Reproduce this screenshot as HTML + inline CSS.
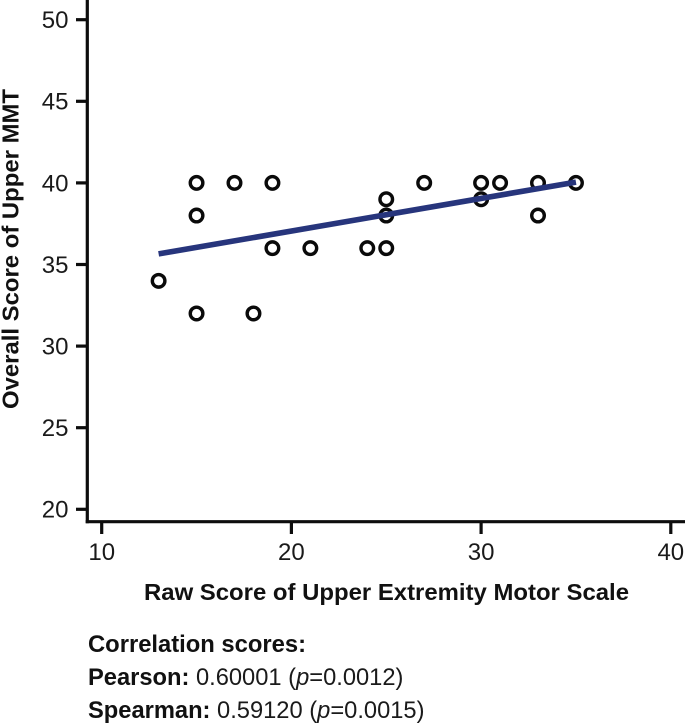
<!DOCTYPE html>
<html lang="en">
<head>
<meta charset="utf-8">
<title>Upper MMT vs Upper Extremity Motor Scale</title>
<style>
html,body{margin:0;padding:0;background:#fff;width:685px;height:724px;overflow:hidden}
svg{display:block}
text{font-family:"Liberation Sans",Arial,sans-serif;fill:#1a1a1a}
.b{font-weight:bold;fill:#111}
.n{font-size:23.7px}
</style>
</head>
<body>
<svg id="chart" width="685" height="724" viewBox="0 0 685 724" xmlns="http://www.w3.org/2000/svg">
  <text class="b" font-size="23" transform="translate(18.5,249) rotate(-90)" text-anchor="middle" textLength="320" lengthAdjust="spacingAndGlyphs" x="0" y="0">Overall Score of Upper MMT</text>
  <text class="b" font-size="23" x="144" y="600" textLength="485" lengthAdjust="spacingAndGlyphs">Raw Score of Upper Extremity Motor Scale</text>
  <text class="b n" x="88" y="652" textLength="218" lengthAdjust="spacingAndGlyphs">Correlation scores:</text>
  <text class="n" x="88" y="685"><tspan class="b">Pearson:</tspan> 0.60001 (<tspan font-style="italic">p</tspan>=0.0012)</text>
  <text class="n" x="88" y="718"><tspan class="b">Spearman:</tspan> 0.59120 (<tspan font-style="italic">p</tspan>=0.0015)</text>
</svg>
<script>
const xTicks = [10, 20, 30, 40];
const yTicks = [20, 25, 30, 35, 40, 45, 50];
const rawScores = [13, 15, 15, 15, 17, 18, 19, 19, 21, 24, 25, 25, 25, 27, 30, 30, 31, 33, 33, 35];
const mmtScores = [34, 32, 38, 40, 40, 32, 36, 40, 36, 36, 36, 38, 39, 40, 39, 40, 40, 38, 40, 40];
const fitX = [13, 35];
const fitY = [35.65, 40.05];

const svg = document.getElementById('chart');
const NS = 'http://www.w3.org/2000/svg';
const xScale = v => 101.7 + (v - 10) * 18.97;
const yScale = v => 509.3 - (v - 20) * 16.32;

function add(tag, attrs, parent) {
  const el = document.createElementNS(NS, tag);
  for (const k in attrs) el.setAttribute(k, attrs[k]);
  (parent || svg).appendChild(el);
  return el;
}

const axisStyle = {stroke: '#0d0d0d', 'stroke-width': 3.2, fill: 'none'};

const yAxis = add('line', Object.assign({x1: 87.3, x2: 87.3, y1: 0, y2: 523.3}, axisStyle));



const xAxis = add('line', Object.assign({x1: 85.7, x2: 685, y1: 521.7, y2: 521.7}, axisStyle));



yTicks.forEach(v => {
  const y = yScale(v);
  const tick = add('line', Object.assign({x1: 76, x2: 87, y1: y, y2: y}, axisStyle));
  
  
  const label = add('text', {x: 68.5, y: y + 8.4, 'text-anchor': 'end', 'font-size': 24});
  label.textContent = v;
  
  
});

xTicks.forEach(v => {
  const x = xScale(v);
  const tick = add('line', Object.assign({x1: x, x2: x, y1: 522, y2: 534}, axisStyle));
  
  
  const label = add('text', {x: x, y: 560, 'text-anchor': 'middle', 'font-size': 24});
  label.textContent = v;
  
  
});

rawScores.forEach((v, i) => {
  const pt = add('circle', {cx: xScale(v), cy: yScale(mmtScores[i]), r: 6.3, fill: 'none', stroke: '#0a0a0a', 'stroke-width': 3.4});
  
  
});

const fit = add('line', {x1: xScale(fitX[0]), y1: yScale(fitY[0]), x2: xScale(fitX[1]), y2: yScale(fitY[1]), stroke: '#27357c', 'stroke-width': 5.6});


</script>
</body>
</html>
